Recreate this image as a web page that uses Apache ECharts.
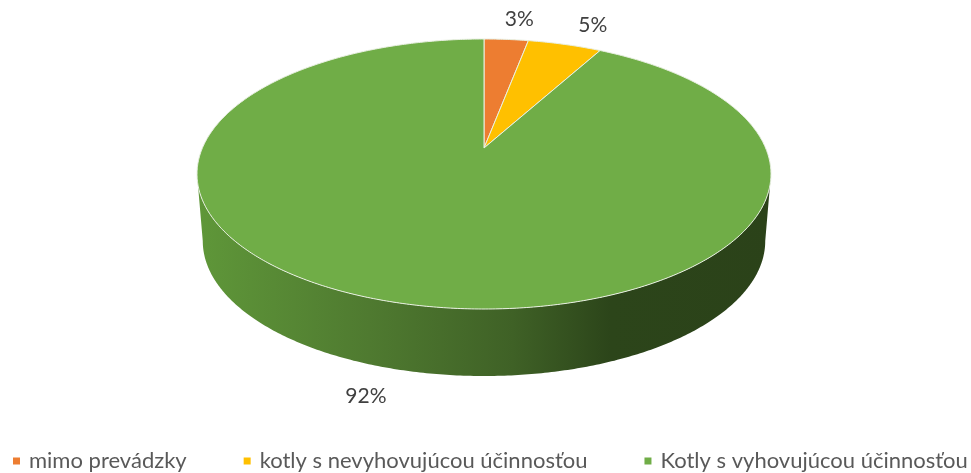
<!DOCTYPE html>
<html>
<head>
<meta charset="utf-8">
<style>html,body{margin:0;padding:0;background:#fff}#c{width:971px;height:473px}</style>
<script src="https://cdn.jsdelivr.net/npm/echarts@6/dist/echarts.min.js"></script>
</head>
<body>
<div id="c"></div>
<script>
const names = ['mimo prevádzky', 'kotly s nevyhovujúcou účinnosťou', 'Kotly s vyhovujúcou účinnosťou'];
const values = [3, 5, 92];
const colors = ['#ed7d31', '#ffc000', '#70ad47'];
const labelOffsets = [[13, -20], [28, -19], [-32, 93]];

const total = values.reduce((a, b) => a + b, 0);
const K = -0.1926, AX = 281.6, BY = 130, CX = 484, AY = 148, DEPTH = 67, BOTTOM_SCALE = 0.98;
function project(theta, bottom) {
  const u = Math.sin(theta), v = -Math.cos(theta), d = 1 + K * v;
  const s = bottom ? BOTTOM_SCALE : 1;
  return [CX + s * AX * u / d, AY + (bottom ? DEPTH : 0) + BY * v / d];
}
function arc(a0, a1, bottom) {
  const n = Math.max(2, Math.ceil(Math.abs(a1 - a0) / 0.01)), pts = [];
  for (let i = 0; i <= n; i++) pts.push(project(a0 + (a1 - a0) * i / n, bottom));
  return pts;
}
const frontStart = Math.acos(K), frontEnd = 2 * Math.PI - frontStart;

function sliceRenderer(index) {
  return function (params, api) {
    const before = values.slice(0, index).reduce((a, b) => a + b, 0);
    const value = api.value(0);
    const a0 = before / total * 2 * Math.PI;
    const a1 = (before + value) / total * 2 * Math.PI;
    const children = [];
    const w0 = Math.max(a0, frontStart), w1 = Math.min(a1, frontEnd);
    if (w1 > w0) {
      children.push({
        type: 'polygon',
        shape: { points: arc(w0, w1, false).concat(arc(w1, w0, true)) },
        style: {
          fill: new echarts.graphic.LinearGradient(0, 0, 1, 0, [
            { offset: 0, color: '#5f9739' },
            { offset: 0.3, color: '#4f7a30' },
            { offset: 0.55, color: '#3f6126' },
            { offset: 0.72, color: '#2c451a' },
            { offset: 1, color: '#2b4219' }
          ]),
          stroke: null
        }
      });
    }
    children.push({
      type: 'polygon',
      shape: { points: [[CX, AY]].concat(arc(a0, a1, false)) },
      style: { fill: colors[index], stroke: '#e9f0e2', lineWidth: 1 }
    });
    const mid = project((a0 + a1) / 2, false);
    children.push({
      type: 'text',
      x: mid[0] + labelOffsets[index][0],
      y: mid[1] + labelOffsets[index][1],
      style: {
        text: value + '%', fill: '#404040', font: '21px Lato',
        align: 'center', verticalAlign: 'middle'
      }
    });
    return { type: 'group', children };
  };
}

const chart = echarts.init(document.getElementById('c'), null, { renderer: 'canvas' });
chart.setOption({
  animation: false,
  backgroundColor: '#fff',
  legend: {
    left: 13, top: 450, itemWidth: 7, itemHeight: 7, itemGap: 57, icon: 'rect',
    padding: 0,
    data: names,
    textStyle: { color: '#595959', fontFamily: 'Lato', fontSize: 22, padding: [0, 0, 0, 4] }
  },
  series: names.map((name, i) => ({
    type: 'custom',
    name,
    coordinateSystem: 'none',
    itemStyle: { color: colors[i] },
    renderItem: sliceRenderer(i),
    data: [[values[i]]],
    silent: true
  }))
});
</script>
</body>
</html>
